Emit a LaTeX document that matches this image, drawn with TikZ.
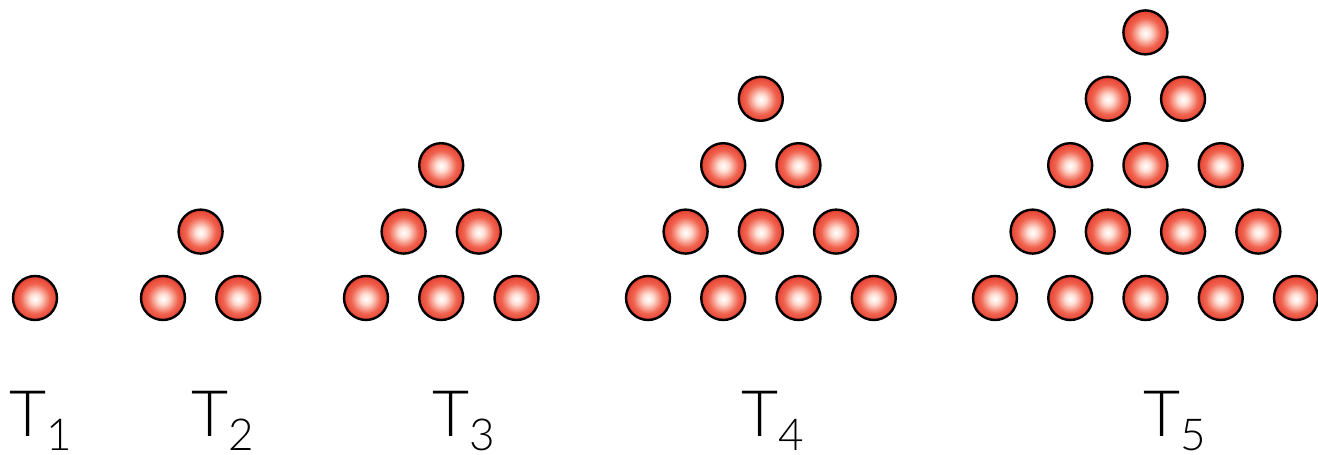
\documentclass[tikz,border=0pt]{standalone}
\usepackage{fontspec}
\setmainfont{Lato Light}
\usepackage{tikz}
\definecolor{bouleRouge}{RGB}{226,44,30}
\definecolor{bouleMilieu}{RGB}{240,100,80}
\definecolor{bouleClair}{RGB}{255,222,212}
\pgfdeclareradialshading{bouleShade}{\pgfpoint{0bp}{-1bp}}{%
	color(0bp)=(white); color(6bp)=(bouleClair); color(17bp)=(bouleMilieu);
	color(30bp)=(bouleRouge); color(50bp)=(bouleRouge)}
\tikzset{
	boule/.style={circle, draw=black, line width=2.4pt, minimum size=44pt, inner sep=0pt,
		shading=bouleShade},
	etiq/.style={anchor=base west, inner sep=0pt, font=\fontsize{64}{64}\selectfont}
}
% pyramide : #1 nom, #2 abscisse de la premiere boule, #3 nombre de lignes
\newcommand{\pyramide}[3]{
	\foreach \i in {1,...,#3}{
		\pgfmathtruncatemacro{\nb}{#3-\i+1}
		\foreach \k in {1,...,\nb}{
			\node[boule] (#1-\i-\k) at ({#2+(\i-1)*37.6+(\k-1)*75.25},{157+(\i-1)*66.4}) {};
		}
	}
}
\newcommand{\indice}[1]{\raisebox{-14pt}[0pt][0pt]{\fontsize{44}{44}\selectfont #1}}

\begin{document}
\begin{tikzpicture}[x=1pt,y=1pt]
	\useasboundingbox (0,0) rectangle (1318,455);
	\pyramide{ta}{35}{1};
	\pyramide{tb}{163}{2};
	\pyramide{tc}{366}{3};
	\pyramide{td}{648}{4};
	\pyramide{te}{995}{5};
	\node[etiq] (la) at (9,18) {T\indice{1}};
	\node[etiq] (lb) at (191,18) {T\indice{2}};
	\node[etiq] (lc) at (432,18) {T\indice{3}};
	\node[etiq] (ld) at (741,18) {T\indice{4}};
	\node[etiq] (le) at (1143,18) {T\indice{5}};
\end{tikzpicture}
\end{document}
